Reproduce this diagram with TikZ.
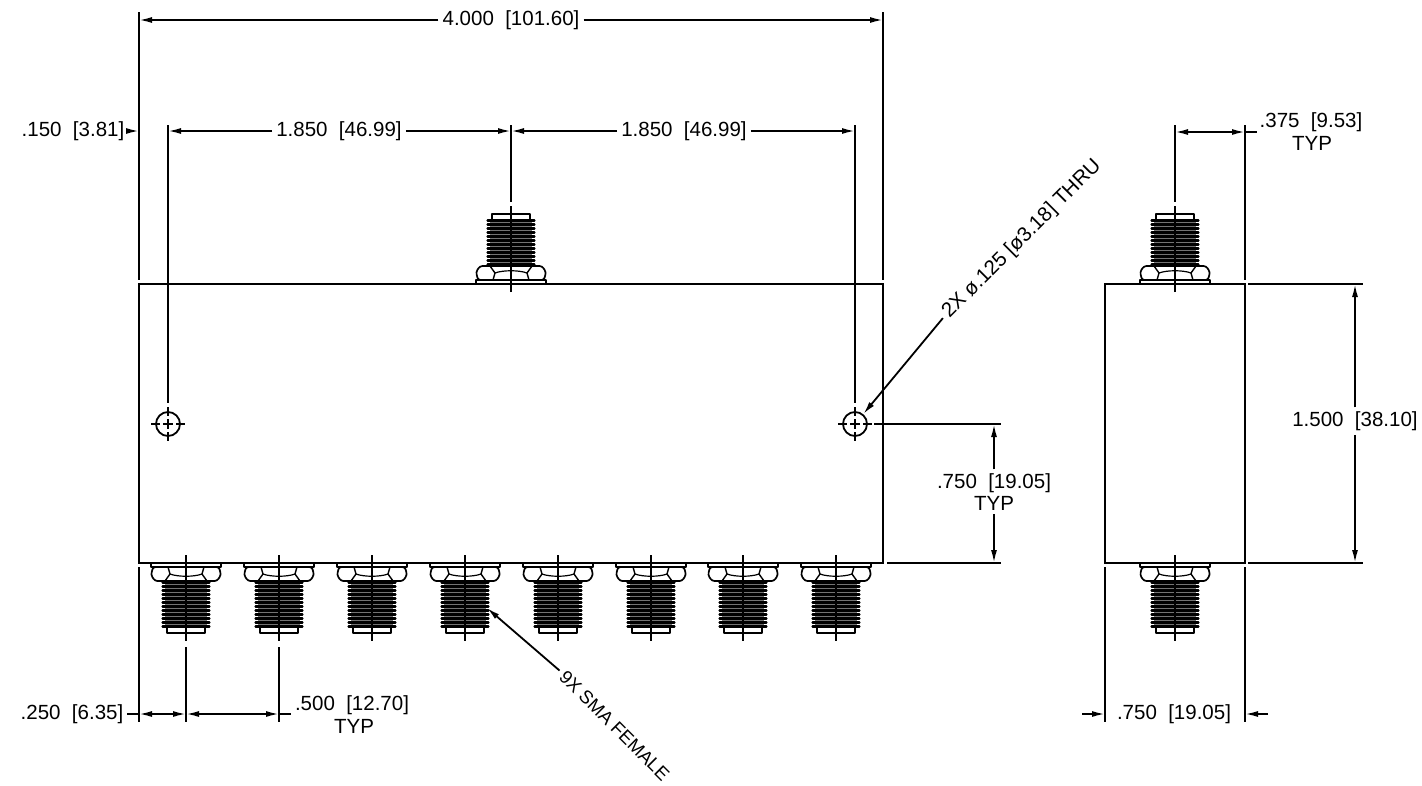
\documentclass[tikz,border=0pt]{standalone}
\usepackage{fontspec}
\setmainfont{Liberation Sans}
\usetikzlibrary{arrows.meta}

\tikzset{
    partline/.style={line width=1.7pt, line join=round},
    extline/.style={line width=1.8pt},
    dimline/.style={line width=1.8pt, -{Latex[length=13pt,width=6pt]}},
    dimboth/.style={line width=1.8pt, {Latex[length=13pt,width=6pt]}-{Latex[length=13pt,width=6pt]}},
    dimtext/.style={font=\fontsize{20.5}{20.5}\selectfont, inner sep=4pt},
    holecircle/.style={draw, circle, line width=1.8pt, minimum size=24pt, inner sep=0pt},
    smaport/.pic={
        % flange and nut
        \draw[partline] (-35,0) rectangle (35,4);
        \draw[partline, rounded corners=2.5pt] (-33,4) -- (33,4) -- (35,12) -- (31,18) -- (-31,18) -- (-35,12) -- cycle;
        \draw[line width=1.4pt] (-18,4) -- (-16,11) -- (-21,18);
        \draw[line width=1.4pt] (18,4) -- (16,11) -- (21,18);
        \draw[line width=1.2pt] (-16,11) .. controls (-8,14) and (8,14) .. (16,11);
        % thread
        \fill[black!55] (-21,18) rectangle (21,63);
        \foreach \ty in {19.5,23.5,...,63.5}
            \draw[line width=2.1pt, line cap=round] (-23.5,\ty) -- (23.5,\ty);
        \draw[partline] (-19,63) -- (-19,70) -- (19,70) -- (19,63);
        % centre line
        \draw[line width=1.5pt] (0,-8) -- (0,78);
    },
    holemark/.pic={
        \draw[line width=1.5pt] (-5,0) -- (5,0) (0,-5) -- (0,5);
        \draw[line width=1.5pt] (-17,0) -- (-8,0) (8,0) -- (17,0);
        \draw[line width=1.5pt] (0,-17) -- (0,-8) (0,8) -- (0,17);
    }
}

\begin{document}
\begin{tikzpicture}[x=1pt, y=-1pt]
    \useasboundingbox (0,0) rectangle (1422,785);

    % front view
    \node[draw, line width=1.8pt, minimum width=744pt, minimum height=279pt, inner sep=0pt] (front) at (511,423.5) {};
    \pic at (511,284) [yscale=-1] {smaport};
    \foreach \px in {186,279,372,465,558,651,743,836}
        \pic at (\px,563) {smaport};

    \node[holecircle] (holeL) at (168,424) {};
    \node[holecircle] (holeR) at (855,424) {};
    \pic at (168,424) {holemark};
    \pic at (855,424) {holemark};

    % side view
    \node[draw, line width=1.8pt, minimum width=140pt, minimum height=279pt, inner sep=0pt] (side) at (1175,423.5) {};
    \pic at (1175,284) [yscale=-1] {smaport};
    \pic at (1175,563) {smaport};

    % extension lines
    \draw[extline] (139,12) -- (139,280);
    \draw[extline] (883,12) -- (883,280);
    \draw[extline] (168,125) -- (168,403);
    \draw[extline] (855,125) -- (855,403);
    \draw[extline] (511,125) -- (511,202);
    \draw[extline] (1175,125) -- (1175,202);
    \draw[extline] (1245,125) -- (1245,280);
    \draw[extline] (139,567) -- (139,722);
    \draw[extline] (186,647) -- (186,722);
    \draw[extline] (279,647) -- (279,722);
    \draw[extline] (1105,567) -- (1105,722);
    \draw[extline] (1245,567) -- (1245,722);
    \draw[extline] (874,424) -- (1001,424);
    \draw[extline] (887,563) -- (1001,563);
    \draw[extline] (1248,284) -- (1363,284);
    \draw[extline] (1248,563) -- (1363,563);

    % dimension texts
    \node[dimtext] (dimWidth) at (511,20) {4.000~~[101.60]};
    \node[dimtext] (dimEdge) at (73,131) {.150~~[3.81]};
    \node[dimtext] (dimPitchL) at (339,131) {1.850~~[46.99]};
    \node[dimtext] (dimPitchR) at (684,131) {1.850~~[46.99]};
    \node[dimtext] (dimPort) at (1311,122) {.375~~[9.53]};
    \node[dimtext] (typPort) at (1312,143) {TYP};
    \node[dimtext] (dimHalf) at (994,483) {.750~~[19.05]};
    \node[dimtext] (typHalf) at (994,503) {TYP};
    \node[dimtext] (dimHeight) at (1355,421) {1.500~~[38.10]};
    \node[dimtext] (dimSide) at (1174,714) {.750~~[19.05]};
    \node[dimtext] (dimFirst) at (72,714) {.250~~[6.35]};
    \node[dimtext] (dimOut) at (352,705) {.500~~[12.70]};
    \node[dimtext] (typOut) at (354,726) {TYP};
    \node[dimtext, rotate=45] (lblHole) at (1022,239) {2X ø.125 [ø3.18] THRU};
    \node[dimtext, font=\fontsize{18.5}{18.5}\selectfont, rotate=-45] (lblSma) at (614.5,725.5) {9X SMA FEMALE};

    % dimension lines
    \draw[dimline] (dimWidth) -- (139,20);
    \draw[dimline] (dimWidth) -- (883,20);
    \draw[dimline] (dimEdge) -- (139,131);
    \draw[dimline] (dimPitchL) -- (168,131);
    \draw[dimline] (dimPitchL) -- (511,131);
    \draw[dimline] (dimPitchR) -- (511,131);
    \draw[dimline] (dimPitchR) -- (855,131);
    \draw[dimboth] (1175,132) -- (1245,132);
    \draw[extline] (1245,132) -- (1257,132);
    \draw[dimline] (dimHalf) -- (994,424);
    \draw[dimline] (typHalf) -- (994,563);
    \draw[dimline] (dimHeight) -- (1355,284);
    \draw[dimline] (dimHeight) -- (1355,563);
    \draw[dimline] (dimSide) ++(-92,0) -- (1105,714);
    \draw[dimline] (dimSide) ++(94,0) -- (1245,714);
    \draw[extline] (dimFirst) -- (139,714);
    \draw[dimboth] (139,714) -- (186,714);
    \draw[dimboth] (186,714) -- (279,714);
    \draw[extline] (279,714) -- (291,714);

    % leaders
    \draw[dimline] (lblHole.west) -- (holeR);
    \draw[dimline] (lblSma.west) -- (487,608);
\end{tikzpicture}
\end{document}
